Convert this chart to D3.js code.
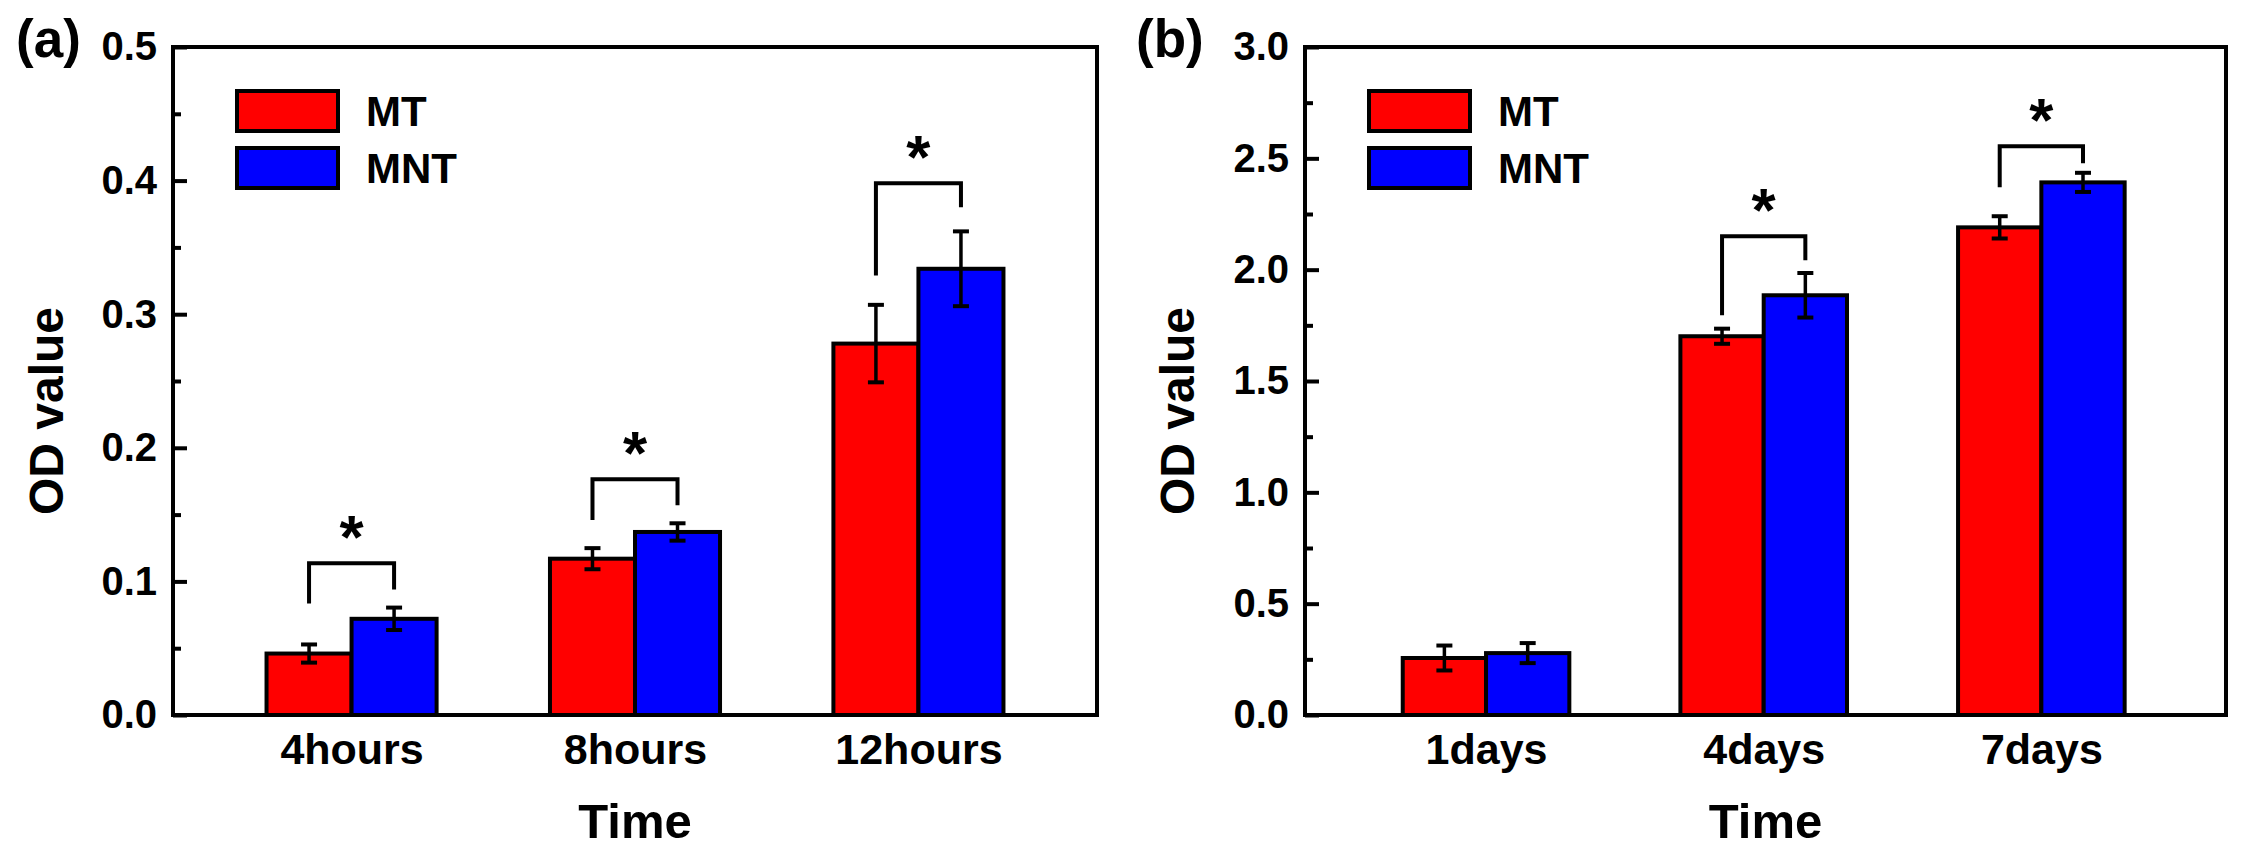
<!DOCTYPE html>
<html><head><meta charset="utf-8">
<script src="https://cdn.jsdelivr.net/npm/d3@7"></script>
<style>
body{margin:0;background:#fff;}
svg{display:block;}
text{font-family:"Liberation Sans",Arial,sans-serif;font-weight:bold;fill:#000;}
</style>
</head><body>
<svg id="chart" width="2246" height="862"></svg>
<script>
// ---------- data ----------
const seriesNames = ["MT", "MNT"];
const seriesColors = ["#ff0000", "#0000ff"];

const hoursCategories = ["4hours", "8hours", "12hours"];
const hoursMT = [0.046, 0.117, 0.278];
const hoursMTErr = [0.0068, 0.0079, 0.029];
const hoursMNT = [0.072, 0.137, 0.334];
const hoursMNTErr = [0.0084, 0.0065, 0.028];
const hoursBracketTop = [0.1135, 0.1764, 0.398];
const hoursBracketLeftEnd = [0.0835, 0.146, 0.329];
const hoursBracketRightEnd = [0.094, 0.157, 0.380];
const hoursYTicks = [0.0, 0.1, 0.2, 0.3, 0.4, 0.5];
const hoursYMinorTicks = [0.05, 0.15, 0.25, 0.35, 0.45];

const daysCategories = ["1days", "4days", "7days"];
const daysMT = [0.256, 1.701, 2.190];
const daysMTErr = [0.056, 0.034, 0.050];
const daysMNT = [0.278, 1.885, 2.392];
const daysMNTErr = [0.045, 0.100, 0.043];
const daysBracketTop = [null, 2.150, 2.554];
const daysBracketLeftEnd = [null, 1.795, 2.370];
const daysBracketRightEnd = [null, 2.042, 2.478];
const daysYTicks = [0.0, 0.5, 1.0, 1.5, 2.0, 2.5, 3.0];
const daysYMinorTicks = [0.25, 0.75, 1.25, 1.75, 2.25, 2.75];

const xTitle = "Time";
const yTitle = "OD value";

// ---------- drawing ----------
const svg = d3.select("#chart");
svg.append("rect").attr("width", 2246).attr("height", 862).attr("fill", "#fff");

function drawPanel(cfg) {
  const {left, right, top, bottom, xDomain, yDomain, cats, mt, mtErr, mnt, mntErr,
         bTop, bLeft, bRight, yTicks, yMinor, tickFmt, tag, tagX, ylabX} = cfg;
  const x = d3.scaleLinear().domain(xDomain).range([left, right]);
  const y = d3.scaleLinear().domain(yDomain).range([bottom, top]);
  const barW = x(0.3) - x(0);
  const g = svg.append("g");

  const idx = cats.map((c, i) => i);
  const series = [mt, mnt];
  const errs = [mtErr, mntErr];

  // bars
  series.forEach((vals, s) => {
    g.selectAll(null).data(idx).enter().append("rect")
      .attr("x", i => s === 0 ? x(i + 1) - barW : x(i + 1))
      .attr("y", i => y(vals[i]))
      .attr("width", barW)
      .attr("height", i => y(0) - y(vals[i]))
      .attr("fill", seriesColors[s])
      .attr("stroke", "#000").attr("stroke-width", 4);
  });
  // error bars
  series.forEach((vals, s) => {
    const cx = i => (s === 0 ? x(i + 1) - barW / 2 : x(i + 1) + barW / 2);
    const eg = g.selectAll(null).data(idx).enter().append("g");
    eg.append("line")
      .attr("x1", cx).attr("x2", cx)
      .attr("y1", i => y(vals[i] + errs[s][i])).attr("y2", i => y(vals[i] - errs[s][i]))
      .attr("stroke", "#000").attr("stroke-width", 3.5);
    [1, -1].forEach(sg => {
      eg.append("line")
        .attr("x1", i => cx(i) - 8).attr("x2", i => cx(i) + 8)
        .attr("y1", i => y(vals[i] + sg * errs[s][i])).attr("y2", i => y(vals[i] + sg * errs[s][i]))
        .attr("stroke", "#000").attr("stroke-width", 4);
    });
  });
  // significance brackets
  idx.filter(i => bTop[i] != null).forEach(i => {
    const xl = x(i + 1) - barW / 2, xr = x(i + 1) + barW / 2;
    g.append("path")
      .attr("d", d3.line()([[xl, y(bLeft[i])], [xl, y(bTop[i])], [xr, y(bTop[i])], [xr, y(bRight[i])]]))
      .attr("fill", "none").attr("stroke", "#000").attr("stroke-width", 4)
      .attr("stroke-linejoin", "miter");
    const st = g.append("text").text("*")
      .attr("x", (xl + xr) / 2).attr("y", 0)
      .attr("text-anchor", "middle").style("font-size", "62px");
    const bb = st.node().getBBox();
    const targetC = y(bTop[i]) - 27;
    st.attr("y", targetC - (bb.y + bb.height / 2));
  });

  // y axis major ticks (inward)
  const yAxis = g.append("g").attr("transform", `translate(${left},0)`)
    .call(d3.axisLeft(y).tickValues(yTicks).tickFormat(d3.format(tickFmt))
      .tickSize(-14).tickPadding(16));
  yAxis.select(".domain").remove();
  yAxis.selectAll("line").attr("stroke", "#000").attr("stroke-width", 4);
  yAxis.selectAll("text").style("font-size", "40px").attr("font-family", null);

  const yMinorAxis = g.append("g").attr("transform", `translate(${left},0)`)
    .call(d3.axisLeft(y).tickValues(yMinor).tickFormat("").tickSize(-8));
  yMinorAxis.select(".domain").remove();
  yMinorAxis.selectAll("line").attr("stroke", "#000").attr("stroke-width", 4);

  // x axis
  const xAxis = g.append("g").attr("transform", `translate(0,${bottom})`)
    .call(d3.axisBottom(x).tickValues(idx.map(i => i + 1)).tickFormat(v => cats[v - 1]).tickSize(0));
  xAxis.select(".domain").remove();
  xAxis.selectAll("text").style("font-size", "43px").attr("dy", null).attr("y", 49);

  // frame
  g.append("rect").attr("x", left).attr("y", top)
    .attr("width", right - left).attr("height", bottom - top)
    .attr("fill", "none").attr("stroke", "#000").attr("stroke-width", 4);

  // legend
  seriesNames.forEach((nm, s) => {
    const ly = top + 44 + s * 57;
    g.append("rect").attr("x", left + 64).attr("y", ly)
      .attr("width", 101).attr("height", 40)
      .attr("fill", seriesColors[s]).attr("stroke", "#000").attr("stroke-width", 4);
    g.append("text").text(nm).attr("x", left + 193).attr("y", ly + 35)
      .style("font-size", "42px");
  });

  // titles
  g.append("text").text(xTitle).attr("x", (left + right) / 2).attr("y", 838)
    .attr("text-anchor", "middle").style("font-size", "49px");
  g.append("text").text(yTitle)
    .attr("transform", `translate(${ylabX},411) rotate(-90)`)
    .attr("text-anchor", "middle").style("font-size", "48px");
  g.append("text").text(tag).attr("x", tagX).attr("y", 57).style("font-size", "53px");
}

drawPanel({
  left: 173, right: 1097, top: 47, bottom: 715,
  xDomain: [0.37, 3.63], yDomain: [0, 0.5],
  cats: hoursCategories, mt: hoursMT, mtErr: hoursMTErr, mnt: hoursMNT, mntErr: hoursMNTErr,
  bTop: hoursBracketTop, bLeft: hoursBracketLeftEnd, bRight: hoursBracketRightEnd,
  yTicks: hoursYTicks, yMinor: hoursYMinorTicks, tickFmt: ".1f",
  tag: "(a)", tagX: 16, ylabX: 63
});
drawPanel({
  left: 1305, right: 2226, top: 47, bottom: 715,
  xDomain: [0.348, 3.665], yDomain: [0, 3.0],
  cats: daysCategories, mt: daysMT, mtErr: daysMTErr, mnt: daysMNT, mntErr: daysMNTErr,
  bTop: daysBracketTop, bLeft: daysBracketLeftEnd, bRight: daysBracketRightEnd,
  yTicks: daysYTicks, yMinor: daysYMinorTicks, tickFmt: ".1f",
  tag: "(b)", tagX: 1136, ylabX: 1194
});
</script>
</body></html>
